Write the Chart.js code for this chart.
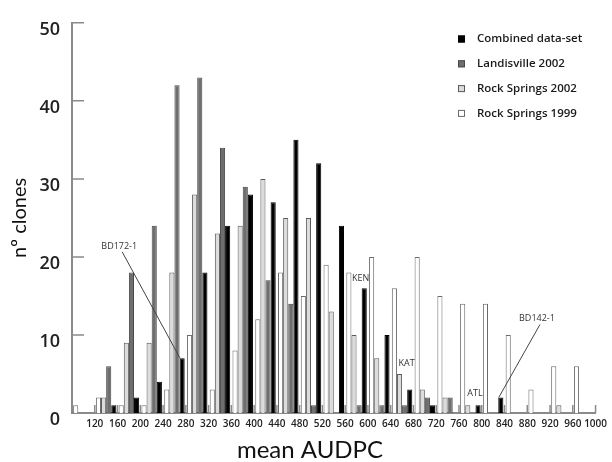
<!DOCTYPE html>
<html>
<head>
<meta charset="utf-8">
<title>mean AUDPC</title>
<script src="https://cdn.jsdelivr.net/npm/chart.js@4"></script>
<style>
  html, body { margin: 0; padding: 0; background: #fff; }
  #wrap { width: 612px; height: 462px; position: relative; }
</style>
</head>
<body>
<div id="wrap"><canvas id="audpcChart"></canvas></div>
<script>
// centres of the 40-wide mean AUDPC classes (80-120 ... 960-1000)
const binCentres = [100, 140, 180, 220, 260, 300, 340, 380, 420, 460, 500, 540,
                    580, 620, 660, 700, 740, 780, 820, 860, 900, 940, 980];

// number of clones per class
const rockSprings1999 = [1, 2, 1, 1, 3, 10, 3, 8, 12, 18, 15, 19, 18, 20, 16, 20, 15, 14, 14, 10, 3, 6, 6];
const rockSprings2002 = [0, 2, 9, 9, 18, 28, 23, 24, 30, 25, 25, 13, 10, 7, 5, 3, 2, 1, 0, 0, 0, 1, 0];
const landisville2002 = [0, 6, 18, 24, 42, 43, 34, 29, 17, 14, 1, 0, 1, 1, 1, 2, 2, 0, 0, 0, 0, 0, 0];
const combined        = [0, 1, 2, 4, 7, 18, 24, 28, 27, 35, 32, 24, 16, 10, 3, 1, 0, 1, 2, 0, 0, 0, 0];

const xTickValues = [120, 160, 200, 240, 280, 320, 360, 400, 440, 480, 520, 560,
                     600, 640, 680, 720, 760, 800, 840, 880, 920, 960, 1000];
const yTickValues = [0, 10, 20, 30, 40, 50];

// clone names written on the chart (x, y in data units); some point at a bar
const cloneNotes = [
    { text: "BD172-1", x: 163, y: 21.4, series: 3, bin: 4 },
    { text: "KEN", x: 587, y: 17.3 },
    { text: "KAT", x: 668, y: 6.4 },
    { text: "ATL", x: 788, y: 2.5 },
    { text: "BD142-1", x: 897, y: 12.1, series: 3, bin: 18 }
];

const noZero = arr => arr.map(v => (v === 0 ? null : v));

const axisGrey = "#8a8a8a";

// short tick marks pointing into the plot, like the original figure
const innerTicks = {
    id: "innerTicks",
    afterDatasetsDraw(chart) {
        const { ctx, chartArea, scales } = chart;
        ctx.save();
        ctx.strokeStyle = axisGrey;
        ctx.lineWidth = 1.5;
        ctx.beginPath();
        scales.x.ticks.forEach(t => {
            const px = scales.x.getPixelForValue(t.value);
            ctx.moveTo(px, chartArea.bottom);
            ctx.lineTo(px, chartArea.bottom - 8);
        });
        scales.y.ticks.forEach(t => {
            if (t.value === 0) return;
            const py = scales.y.getPixelForValue(t.value);
            ctx.moveTo(chartArea.left, py);
            ctx.lineTo(chartArea.left + 12, py);
        });
        ctx.stroke();
        ctx.restore();
    }
};

const notesPlugin = {
    id: "cloneNotes",
    afterDatasetsDraw(chart) {
        const { ctx, scales } = chart;
        ctx.save();
        ctx.font = '9px "Open Sans"';
        ctx.textAlign = "center";
        ctx.textBaseline = "middle";
        ctx.fillStyle = "#333";
        ctx.strokeStyle = "#444";
        ctx.lineWidth = 1;
        cloneNotes.forEach(n => {
            const px = scales.x.getPixelForValue(n.x);
            const py = scales.y.getPixelForValue(n.y);
            ctx.fillText(n.text, px, py);
            if (n.series !== undefined) {
                const bar = chart.getDatasetMeta(n.series).data[n.bin];
                ctx.beginPath();
                ctx.moveTo(px + 3, py + 6);
                ctx.lineTo(bar.x - 2, bar.y);
                ctx.stroke();
            }
        });
        ctx.restore();
    }
};

const legendPlugin = {
    id: "cornerLegend",
    afterDraw(chart) {
        const ctx = chart.ctx;
        const sets = chart.data.datasets.slice().reverse();
        ctx.save();
        ctx.font = '600 11.5px "Open Sans"';
        ctx.textBaseline = "middle";
        sets.forEach((ds, i) => {
            const y = 39 + i * 24.8;
            ctx.fillStyle = ds.backgroundColor;
            ctx.fillRect(458, y - 3.5, 7, 7);
            ctx.strokeStyle = ds.borderColor;
            ctx.lineWidth = 1;
            ctx.strokeRect(458.5, y - 3, 6, 6);
            ctx.fillStyle = "#1a1a1a";
            ctx.fillText(ds.label, 477, y);
        });
        ctx.restore();
    }
};

const xTitlePlugin = {
    id: "xTitle",
    afterDraw(chart) {
        const ctx = chart.ctx;
        ctx.save();
        ctx.font = '24px Lato';
        ctx.fillStyle = "#111";
        ctx.textAlign = "center";
        ctx.textBaseline = "middle";
        ctx.fillText("mean AUDPC", 310, 450);
        ctx.restore();
    }
};

new Chart(document.getElementById("audpcChart"), {
    type: "bar",
    data: {
        labels: binCentres,
        datasets: [
            {
                label: "Rock Springs 1999",
                data: noZero(rockSprings1999),
                backgroundColor: "#ffffff",
                borderColor: "#6a6a6a"
            },
            {
                label: "Rock Springs 2002",
                data: noZero(rockSprings2002),
                backgroundColor: "#dcdcdc",
                borderColor: "#5a5a5a"
            },
            {
                label: "Landisville 2002",
                data: noZero(landisville2002),
                backgroundColor: "#6e6e6e",
                borderColor: "#4a4a4a"
            },
            {
                label: "Combined data-set",
                data: noZero(combined),
                backgroundColor: "#000000",
                borderColor: "#000000"
            }
        ]
    },
    options: {
        responsive: true,
        maintainAspectRatio: false,
        animation: false,
        layout: { padding: { top: 15, right: 13, left: 0, bottom: 0 } },
        datasets: {
            bar: {
                categoryPercentage: 0.9,
                barPercentage: 1.0,
                borderWidth: 1,
                borderSkipped: "bottom"
            }
        },
        plugins: {
            legend: { display: false },
            tooltip: { enabled: false }
        },
        scales: {
            x: {
                type: "linear",
                min: 80,
                max: 1000,
                offset: false,
                afterBuildTicks: scale => {
                    scale.ticks = xTickValues.map(v => ({ value: v }));
                },
                afterFit: scale => { scale.height = 49; },
                grid: { display: false, drawTicks: false },
                border: { color: axisGrey, width: 2 },
                ticks: {
                    padding: 5,
                    maxRotation: 0,
                    autoSkip: false,
                    color: "#222",
                    font: { family: '"Open Sans"', size: 10, weight: "600" },
                    callback: v => String(v)
                },
                title: { display: false }
            },
            y: {
                min: 0,
                max: 50,
                afterBuildTicks: scale => {
                    scale.ticks = yTickValues.map(v => ({ value: v }));
                },
                afterFit: scale => { scale.width = 72; },
                grid: { display: false, drawTicks: false },
                border: { color: axisGrey, width: 2 },
                ticks: {
                    padding: 12,
                    labelOffset: 7,
                    color: "#222",
                    font: { family: '"Open Sans"', size: 18, weight: "600" },
                    callback: v => String(v)
                },
                title: {
                    display: true,
                    text: "nº clones",
                    color: "#111",
                    font: { family: "Lato", size: 20 },
                    padding: { top: 8, bottom: 0 }
                }
            }
        }
    },
    plugins: [innerTicks, notesPlugin, legendPlugin, xTitlePlugin]
});
</script>
</body>
</html>
